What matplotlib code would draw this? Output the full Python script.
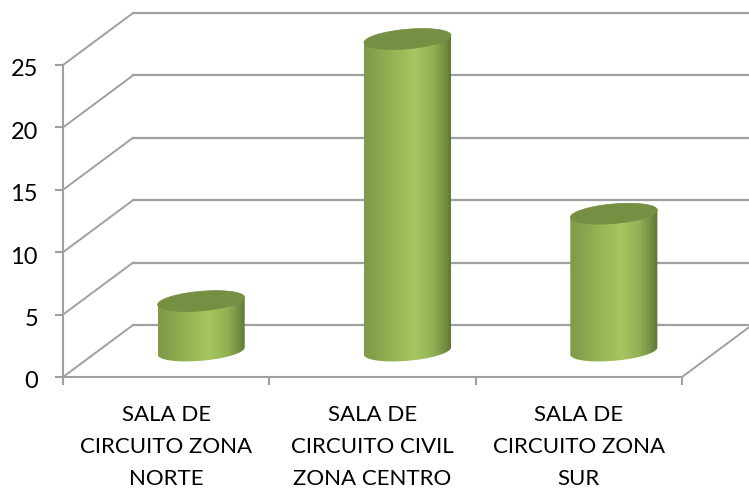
import numpy as np
import matplotlib.pyplot as plt
from matplotlib.colors import LinearSegmentedColormap
from matplotlib.patches import PathPatch
from matplotlib.path import Path
from matplotlib.transforms import ScaledTranslation

categories = ['SALA DE\nCIRCUITO ZONA\nNORTE', 'SALA DE\nCIRCUITO CIVIL\nZONA CENTRO', 'SALA DE\nCIRCUITO ZONA\nSUR']
values = [4, 25, 11]
y_ticks = [0, 5, 10, 15, 20, 25]

plt.rcParams['font.family'] = ['Lato', 'DejaVu Sans']

W, H = 749, 488
GRAY = '#a0a0a0'
DEPTH_X = 70 / 206.3   # depth of the fake 3d box, in category units
DEPTH_Y = 52 / 12.48   # same, in value units
HALF_W = 43.5 / 206.3
TILT = 3.6 / 12.48
MINOR = 9.8 / 12.48

fig = plt.figure(figsize=(W / 100, H / 100), dpi=100)
ax = fig.add_axes([63 / W, 1 - 377 / H, 619 / W, 312 / H])
ax.set_xlim(0, 3)
ax.set_ylim(0, 25)
ax.patch.set_alpha(0)

for s in ['top', 'right']:
    ax.spines[s].set_visible(False)
for s in ['left', 'bottom']:
    ax.spines[s].set_color(GRAY)
    ax.spines[s].set_linewidth(1.5)

ax.set_yticks(y_ticks)
ax.set_xticks([0, 1, 2, 3])
ax.set_xticklabels([])
ax.set_xticks([0.5, 1.5, 2.5], minor=True)
ax.set_xticklabels(categories, minor=True, fontsize=16, linespacing=1.73, color='black')
ax.tick_params(axis='x', which='major', length=6, width=1.5, color=GRAY)
ax.tick_params(axis='x', which='minor', length=0, pad=20.5)
ax.tick_params(axis='y', length=6, width=1.5, color=GRAY, labelsize=17, pad=12, labelcolor='black')

# nudge y labels down, the font sits higher than the original
nudge = ScaledTranslation(0, -3 / 100, fig.dpi_scale_trans)
for lab in ax.get_yticklabels():
    lab.set_transform(lab.get_transform() + nudge)

# walls and floor
for v in y_ticks:
    ax.plot([0, DEPTH_X], [v, v + DEPTH_Y], color=GRAY, lw=1.4, clip_on=False, zorder=1, solid_capstyle='round')
    ax.plot([DEPTH_X, 3 + DEPTH_X], [v + DEPTH_Y, v + DEPTH_Y], color=GRAY, lw=1.6, clip_on=False, zorder=1)
ax.plot([3, 3 + DEPTH_X], [0, DEPTH_Y], color=GRAY, lw=1.4, clip_on=False, zorder=1)

shade = LinearSegmentedColormap.from_list('shade', [
    (0.0, '#7f9a49'), (0.12, '#86a24c'), (0.35, '#97b656'), (0.58, '#a5c660'),
    (0.78, '#94b254'), (0.92, '#748f42'), (1.0, '#5c7534')])
grad = np.linspace(0, 1, 256).reshape(1, -1)
t = np.linspace(0, 2 * np.pi, 121)

for i, val in enumerate(values):
    cx = i + 0.5 + DEPTH_X / 2
    base = DEPTH_Y / 2
    top = val + DEPTH_Y / 2
    # lower half of the base ellipse + upper side of the top ellipse
    t_low = np.linspace(np.pi, 2 * np.pi, 60)
    xs = np.concatenate([cx + HALF_W * np.cos(t_low), [cx + HALF_W, cx - HALF_W]])
    ys = np.concatenate([base + TILT * np.cos(t_low) + MINOR * np.sin(t_low),
                         [top + TILT, top - TILT]])
    body = PathPatch(Path(np.column_stack([xs, ys])), fc='none', ec='none', transform=ax.transData)
    ax.add_patch(body)
    im = ax.imshow(grad, cmap=shade, aspect='auto', zorder=3, interpolation='bilinear',
                   extent=[cx - HALF_W, cx + HALF_W, base - 2, top + 2])
    im.set_clip_box(fig.bbox)
    im.set_clip_path(body)
    # top cap
    ax.fill(cx + HALF_W * np.cos(t), top + TILT * np.cos(t) + MINOR * np.sin(t),
            color='#758f43', lw=0.5, zorder=4, clip_on=False)

ax.set_xlim(0, 3)
ax.set_ylim(0, 25)

fig.savefig('out.png', dpi=100)
